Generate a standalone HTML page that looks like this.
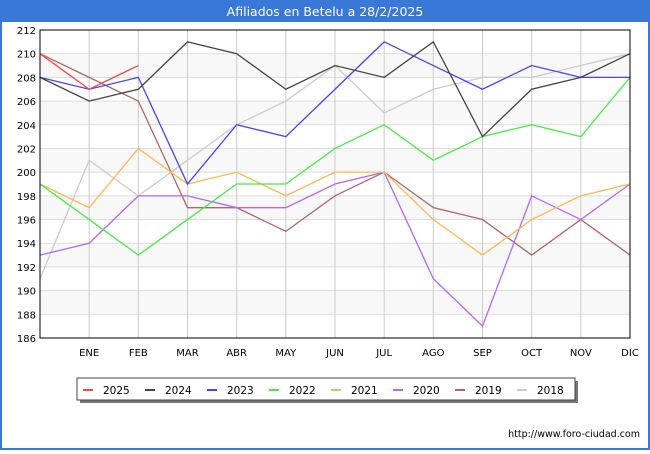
<!DOCTYPE html>
<html><head><meta charset="utf-8"><style>
body{margin:0;width:650px;height:450px;overflow:hidden;font-family:"DejaVu Sans","Liberation Sans",sans-serif;}
svg text{font-family:"DejaVu Sans","Liberation Sans",sans-serif;}
</style></head><body>
<svg width="650" height="450" xmlns="http://www.w3.org/2000/svg" id="svg">
<rect x="0" y="0" width="650" height="450" fill="#3a78d8"/>
<rect x="2" y="22" width="646" height="426" fill="#ffffff"/>
<text x="325" y="16" text-anchor="middle" fill="#fff" font-size="12.5">Afiliados en Betelu a 28/2/2025</text>
<g id="grid"></g>
<g id="lines"></g>
<rect x="40" y="30" width="590" height="308" fill="none" stroke="#000" stroke-width="1"/>
<g id="legend"></g>
<text x="640" y="437" text-anchor="end" font-size="9.5" fill="#000">http://www.foro-ciudad.com</text>
</svg>
<script>
const months=["","ENE","FEB","MAR","ABR","MAY","JUN","JUL","AGO","SEP","OCT","NOV","DIC"];
const yTicks=[186,188,190,192,194,196,198,200,202,204,206,208,210,212];
const seriesNames=["2025","2024","2023","2022","2021","2020","2019","2018"];
const s2025=[210,207,209];
const s2024=[208,206,207,211,210,207,209,208,211,203,207,208,210];
const s2023=[208,207,208,199,204,203,207,211,209,207,209,208,208];
const s2022=[199,196,193,196,199,199,202,204,201,203,204,203,208];
const s2021=[199,197,202,199,200,198,200,200,196,193,196,198,199];
const s2020=[193,194,198,198,197,197,199,200,191,187,198,196,199];
const s2019=[210,208,206,197,197,195,198,200,197,196,193,196,193];
const s2018=[191,201,198,201,204,206,209,205,207,208,208,209,210];
const colors=["#ff4444","#444444","#4444ff","#44ee44","#ffb84d","#b366ff","#b36666","#cccccc"];
const NS="http://www.w3.org/2000/svg";
const X0=40,X1=630,Y0=338,Y1=30;
function xs(i){return X0+i*(X1-X0)/12;}
function ys(v){return Y0-(v-186)*(Y0-Y1)/26;}
function mk(t,a,p){const e=document.createElementNS(NS,t);for(const k in a)e.setAttribute(k,a[k]);p.appendChild(e);return e;}
const grid=document.getElementById('grid');
for(let i=0;i<yTicks.length-1;i++){
 const r=mk('rect',{x:X0,y:ys(yTicks[i+1]),width:X1-X0,height:ys(yTicks[i])-ys(yTicks[i+1]),fill:i%2?'#f8f8f8':'#ffffff'},grid);
 
 
}
yTicks.forEach(v=>{
 const l=mk('line',{x1:X0,x2:X1,y1:ys(v),y2:ys(v),stroke:'#dddddd'},grid);
 
 
 const t=mk('text',{x:36,y:ys(v)+4,'text-anchor':'end','font-size':'10',fill:'#000'},grid);
 t.textContent=v;
 
 
});
months.forEach((m,i)=>{
 if(i>0){const l=mk('line',{x1:xs(i),x2:xs(i),y1:Y1,y2:Y0,stroke:'#cccccc'},grid);
 
 }
 const t=mk('text',{x:xs(i),y:356,'text-anchor':'middle','font-size':'10',fill:'#000'},grid);
 t.textContent=m;
 
 
});
const data=[s2025,s2024,s2023,s2022,s2021,s2020,s2019,s2018];
const lines=document.getElementById('lines');
for(let k=data.length-1;k>=0;k--){
 const pts=data[k].map((v,i)=>xs(i)+','+ys(v)).join(' ');
 const p=mk('polyline',{points:pts,fill:'none',stroke:colors[k],'stroke-width':'1.3'},lines);
 
 
}
const lg=document.getElementById('legend');
const sh=mk('rect',{x:80,y:381,width:498,height:22,fill:'#777'},lg);


const box=mk('rect',{x:77,y:378,width:498,height:22,fill:'#fff',stroke:'#444'},lg);


seriesNames.forEach((n,k)=>{
 const x=83+k*62;
 const l=mk('line',{x1:x,x2:x+10,y1:390,y2:390,stroke:colors[k],'stroke-width':'2'},lg);
 
 
 const t=mk('text',{x:x+20,y:394,'font-size':'10.5',fill:'#000'},lg);
 t.textContent=n;
 
 
});
</script>
</body></html>
